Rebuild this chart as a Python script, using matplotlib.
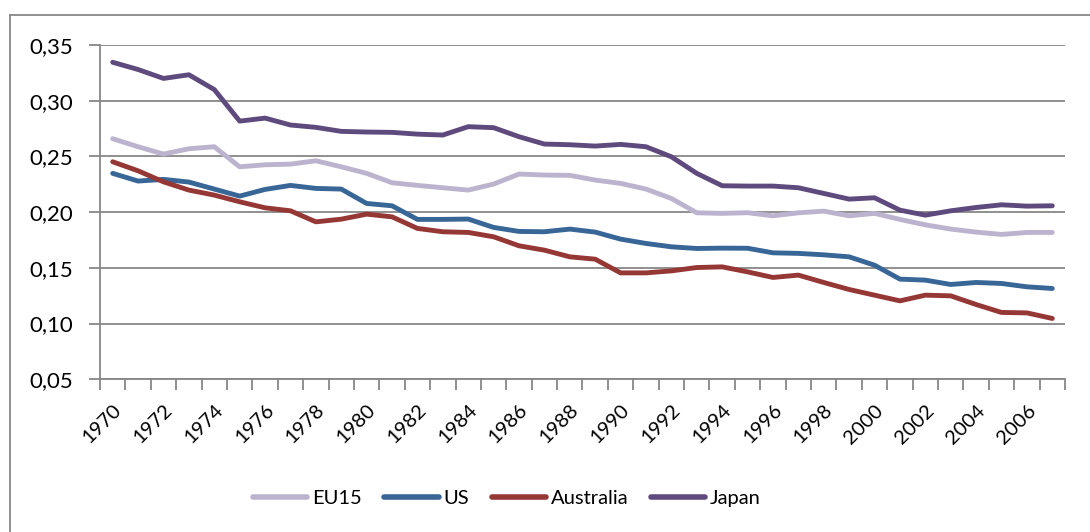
import matplotlib
matplotlib.use("Agg")
import matplotlib.pyplot as plt
from matplotlib.lines import Line2D
import numpy as np

years = list(range(1970, 2008))
eu15 = [0.2659, 0.2587, 0.2521, 0.2569, 0.2587, 0.2407, 0.2425, 0.2431, 0.2461, 0.2407,
        0.2348, 0.2264, 0.2240, 0.2219, 0.2198, 0.2252, 0.2342, 0.2333, 0.2330, 0.2288,
        0.2258, 0.2207, 0.2123, 0.1994, 0.1989, 0.1995, 0.1967, 0.1994, 0.2009, 0.1967,
        0.1989, 0.1935, 0.1886, 0.1848, 0.1821, 0.1800, 0.1818, 0.1818]
us = [0.2348, 0.2279, 0.2294, 0.2270, 0.2207, 0.2144, 0.2204, 0.2240, 0.2213, 0.2207,
      0.2078, 0.2057, 0.1935, 0.1935, 0.1938, 0.1863, 0.1827, 0.1824, 0.1848, 0.1821,
      0.1758, 0.1719, 0.1689, 0.1674, 0.1677, 0.1676, 0.1635, 0.1630, 0.1617, 0.1599,
      0.1524, 0.1399, 0.1390, 0.1351, 0.1369, 0.1360, 0.1330, 0.1315]
australia = [0.2452, 0.2371, 0.2272, 0.2198, 0.2153, 0.2093, 0.2039, 0.2012, 0.1913, 0.1937,
             0.1982, 0.1958, 0.1854, 0.1824, 0.1818, 0.1779, 0.1698, 0.1659, 0.1599, 0.1578,
             0.1455, 0.1455, 0.1473, 0.1503, 0.1509, 0.1464, 0.1414, 0.1435, 0.1369, 0.1306,
             0.1255, 0.1204, 0.1255, 0.1249, 0.1171, 0.1100, 0.1096, 0.1046]
japan = [0.3345, 0.3280, 0.3200, 0.3233, 0.3100, 0.2817, 0.2844, 0.2782, 0.2761, 0.2725,
         0.2719, 0.2716, 0.2700, 0.2692, 0.2767, 0.2758, 0.2677, 0.2611, 0.2605, 0.2593,
         0.2608, 0.2587, 0.2497, 0.2348, 0.2237, 0.2234, 0.2234, 0.2219, 0.2168, 0.2117,
         0.2129, 0.2018, 0.1973, 0.2012, 0.2042, 0.2066, 0.2054, 0.2057]
series_names = ["EU15", "US", "Australia", "Japan"]
colors = ["#BCB4CE", "#386696", "#953735", "#5F4A7D"]
y_ticks = [0.05, 0.10, 0.15, 0.20, 0.25, 0.30, 0.35]

plt.rcParams['font.family'] = ['Lato', 'DejaVu Sans']

W, H = 1090, 532
fig = plt.figure(figsize=(W / 100, H / 100), dpi=100)
ax = fig.add_axes([100 / W, 1 - 379.3 / H, 965 / W, (379.3 - 45) / H])

x = np.arange(len(years))
for vals, name, c in zip([eu15, us, australia, japan], series_names, colors):
    ax.plot(x, vals, color=c, lw=3.5, solid_capstyle='round', solid_joinstyle='round',
            label=name, zorder=3)

grid_c = "#878787"
ax.set_ylim(0.05, 0.35)
ax.set_xlim(-0.5, len(years) - 0.5)
ax.set_yticks(y_ticks)
ax.set_yticklabels([f"{v:.2f}".replace('.', ',') for v in y_ticks], fontsize=16)
ax.yaxis.grid(True, color=grid_c, lw=1.3)
ax.set_axisbelow(True)
for s in ['top', 'right']:
    ax.spines[s].set_visible(False)
for s in ['left', 'bottom']:
    ax.spines[s].set_color(grid_c)
    ax.spines[s].set_linewidth(1.3)
ax.tick_params(axis='y', length=8, width=1.3, color=grid_c, pad=11)

ax.set_xticks(x[::2])
ax.set_xticklabels([str(y) for y in years[::2]], rotation=45, ha='right',
                   rotation_mode='anchor', fontsize=14.5)
ax.set_xticks(np.arange(-0.5, len(years), 1.0), minor=True)
ax.tick_params(axis='x', which='major', length=0, pad=16)
ax.tick_params(axis='x', which='minor', length=8, width=1.3, color=grid_c)

handles = [Line2D([0], [0], color=c, lw=4, solid_capstyle='round') for c in colors]
fig.legend(handles, series_names, loc='center', bbox_to_anchor=(507 / W, 1 - 498 / H),
           ncol=4, frameon=False, fontsize=14.5, handlelength=2.7, handletextpad=0.25,
           columnspacing=1.1)

# outer chart border (cropped at right and bottom)
fig.add_artist(Line2D([10 / W, 10 / W], [0, 1 - 15 / H], color=grid_c, lw=1.3,
                      transform=fig.transFigure))
fig.add_artist(Line2D([10 / W, 1], [1 - 15 / H, 1 - 15 / H], color=grid_c, lw=1.3,
                      transform=fig.transFigure))

fig.savefig("out.png", dpi=100)
